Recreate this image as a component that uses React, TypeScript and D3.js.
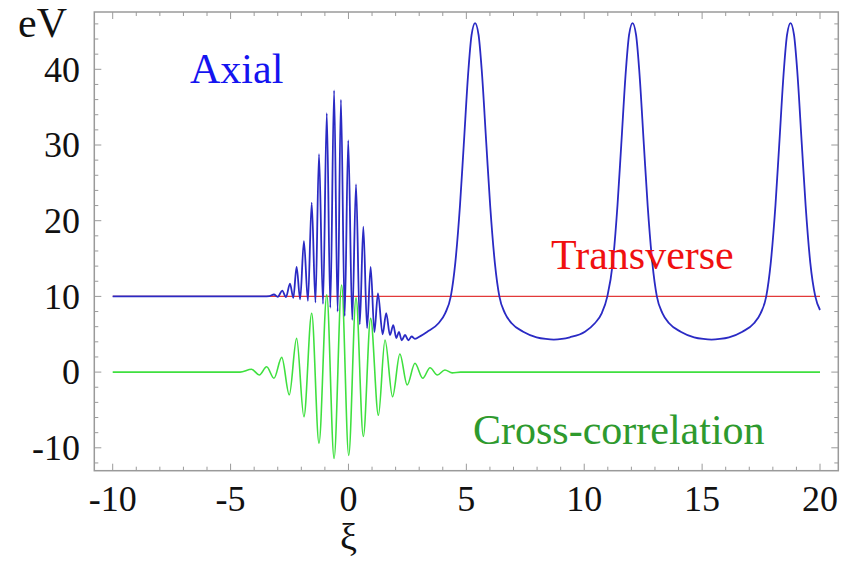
import { useRef, useEffect } from "react";
import * as d3 from "d3";

// chart values (xi, eV)
const axialX = [
  -10, -3.6, -3.35, -3.16, -3.0, -2.81, -2.65, -2.48, -2.34, -2.2, -2.05, -1.89, -1.72, -1.56, -1.4, -1.25,
  -1.08, -0.92, -0.77, -0.61, -0.46, -0.32, -0.16, -0.01, 0.16, 0.32, 0.48, 0.63, 0.79, 0.94, 1.1, 1.25,
  1.45, 1.6, 1.76, 1.9, 2.03, 2.14, 2.26, 2.4, 2.54, 2.68, 2.82,
  3.05, 3.33, 3.82, 4.1, 4.34, 4.53, 4.73, 4.89, 5.09, 5.22, 5.37, 5.52, 5.65, 5.85, 6.01, 6.21, 6.4,
  6.64, 6.92, 7.41, 7.98, 8.37, 8.71, 9.05, 9.39, 10.03, 10.45, 10.74, 10.98, 11.21, 11.41, 11.57,
  11.77, 11.9, 12.05, 12.2, 12.33, 12.53, 12.69, 12.89, 13.08, 13.32, 13.6, 14.09, 14.66, 15.05, 15.4,
  15.75, 16.14, 16.71, 17.2, 17.48, 17.72, 17.91, 18.11, 18.27, 18.47, 18.6, 18.75, 18.9, 19.03, 19.23,
  19.39, 19.59, 19.8, 20,
];
const axialY = [
  10, 10, 10.05, 10.25, 9.95, 10.75, 9.9, 11.7, 9.8, 13.9, 9.6, 17.3, 9.4, 22.4, 9.2, 28.8,
  9.0, 34.2, 8.5, 37.2, 8.0, 36.0, 7.4, 30.6, 6.9, 24.8, 6.3, 19.2, 5.8, 13.9, 5.3, 10.4,
  5.0, 7.8, 4.9, 6.2, 4.5, 5.3, 4.2, 4.9, 4.2, 4.7, 4.4,
  4.75, 5.3, 6.45, 7.77, 10, 14.4, 22, 30, 40, 44.5, 46.1, 44.5, 40, 30, 22, 14.4, 10,
  7.77, 6.45, 5.34, 4.6, 4.38, 4.3, 4.38, 4.6, 5.34, 6.45, 7.77, 10, 14.4, 22, 30,
  40, 44.5, 46.1, 44.5, 40, 30, 22, 14.4, 10, 7.77, 6.45, 5.34, 4.6, 4.38, 4.3,
  4.38, 4.6, 5.34, 6.45, 7.77, 10, 14.4, 22, 30, 40, 44.5, 46.1, 44.5, 40, 30,
  22, 14.4, 10, 8.2,
];

const crossX = [
  -10, -4.6, -4.11, -3.78, -3.47, -3.16, -2.83, -2.51, -2.2, -1.89, -1.56, -1.25, -0.92, -0.61, -0.29,
  0.01, 0.32, 0.63, 0.94, 1.27, 1.55, 1.87, 2.18, 2.49, 2.82, 3.15, 3.46, 3.77, 4.09, 4.4, 4.75, 20,
];
const crossY = [
  0, 0, 0.37, -0.38, 0.7, -0.82, 1.95, -3.0, 4.46, -5.9, 7.77, -9.4, 10.2, -11.4, 11.5,
  -11.0, 9.8, -8.5, 7.1, -5.7, 4.24, -3.25, 2.39, -1.7, 1.16, -0.82, 0.58, -0.38, 0.28, -0.1, 0, 0,
];

const transverseX = [-10, 20];
const transverseY = [10, 10];

const xMajor = [-10, -5, 0, 5, 10, 15, 20];
const yMajor = [-10, 0, 10, 20, 30, 40];

const W = 845;
const H = 562;
const frame = { left: 94.3, right: 838.3, top: 12, bottom: 470.7 };
const FONT = "'Liberation Serif', 'Times New Roman', serif";

const App = () => {
  const svgRef = useRef<SVGSVGElement>(null);

  useEffect(() => {
    const svg = d3.select(svgRef.current);
    svg.selectAll("*").remove();

    const x = d3.scaleLinear().domain([-10, 20]).range([112.7, 820]);
    const y = d3.scaleLinear().domain([-10, 40]).range([447.8, 69.3]);

    // frame
    svg
      .append("rect")
      .attr("x", frame.left)
      .attr("y", frame.top)
      .attr("width", frame.right - frame.left)
      .attr("height", frame.bottom - frame.top)
      .attr("fill", "white")
      .attr("stroke", "#9a9a9a")
      .attr("stroke-width", 1.5);

    // inward ticks on all sides
    const ticks = svg.append("g").attr("stroke", "#9a9a9a").attr("stroke-width", 1);
    d3.range(-10, 21, 1).forEach((v) => {
      const len = v % 5 === 0 ? 7 : 4;
      ticks.append("line").attr("x1", x(v)).attr("x2", x(v)).attr("y1", frame.bottom).attr("y2", frame.bottom - len);
      ticks.append("line").attr("x1", x(v)).attr("x2", x(v)).attr("y1", frame.top).attr("y2", frame.top + len);
    });
    d3.range(-12, 47, 2).forEach((v) => {
      const len = v % 10 === 0 ? 7 : 4;
      ticks.append("line").attr("y1", y(v)).attr("y2", y(v)).attr("x1", frame.left).attr("x2", frame.left + len);
      ticks.append("line").attr("y1", y(v)).attr("y2", y(v)).attr("x1", frame.right).attr("x2", frame.right - len);
    });

    // tick labels
    svg
      .append("g")
      .selectAll("text")
      .data(xMajor)
      .join("text")
      .attr("x", (d) => x(d))
      .attr("y", 511)
      .attr("text-anchor", "middle")
      .attr("font-family", FONT)
      .attr("font-size", 36)
      .attr("fill", "#111")
      .text((d) => String(d));
    svg
      .append("g")
      .selectAll("text")
      .data(yMajor)
      .join("text")
      .attr("x", 80)
      .attr("y", (d) => y(d))
      .attr("dy", "0.34em")
      .attr("text-anchor", "end")
      .attr("font-family", FONT)
      .attr("font-size", 36)
      .attr("fill", "#111")
      .text((d) => String(d));

    // axis labels
    svg.append("text").attr("x", 18).attr("y", 37).attr("font-family", FONT).attr("font-size", 42).attr("fill", "#111").text("eV");
    svg
      .append("text")
      .attr("x", x(0))
      .attr("y", 550)
      .attr("text-anchor", "middle")
      .attr("font-family", FONT)
      .attr("font-size", 38)
      .attr("fill", "#111")
      .text("ξ");

    const line = (xs: number[], ys: number[], curve: d3.CurveFactory) =>
      d3
        .line<number>()
        .x((d) => x(xs[d]))
        .y((d) => y(ys[d]))
        .curve(curve)(d3.range(xs.length));

    svg
      .append("path")
      .attr("d", line(transverseX, transverseY, d3.curveLinear))
      .attr("fill", "none")
      .attr("stroke", "#e23a3a")
      .attr("stroke-width", 1.4);
    svg
      .append("path")
      .attr("d", line(crossX, crossY, d3.curveMonotoneX))
      .attr("fill", "none")
      .attr("stroke", "#3fe03f")
      .attr("stroke-width", 1.6);
    svg
      .append("path")
      .attr("d", line(axialX, axialY, d3.curveMonotoneX))
      .attr("fill", "none")
      .attr("stroke", "#2a2ac4")
      .attr("stroke-width", 1.8);

    // curve labels
    const label = (t: string, px: number, py: number, c: string) =>
      svg.append("text").attr("x", px).attr("y", py).attr("font-family", FONT).attr("font-size", 42).attr("fill", c).text(t);
    label("Axial", 190, 82.7, "#1414f0");
    label("Transverse", 551, 268.5, "#f01010");
    label("Cross-correlation", 473, 444, "#2e9a2e");
  }, []);

  return (
    <svg ref={svgRef} width={W} height={H} style={{ position: "absolute", left: 0, top: 0, background: "white" }}></svg>
  );
};

export default App;
